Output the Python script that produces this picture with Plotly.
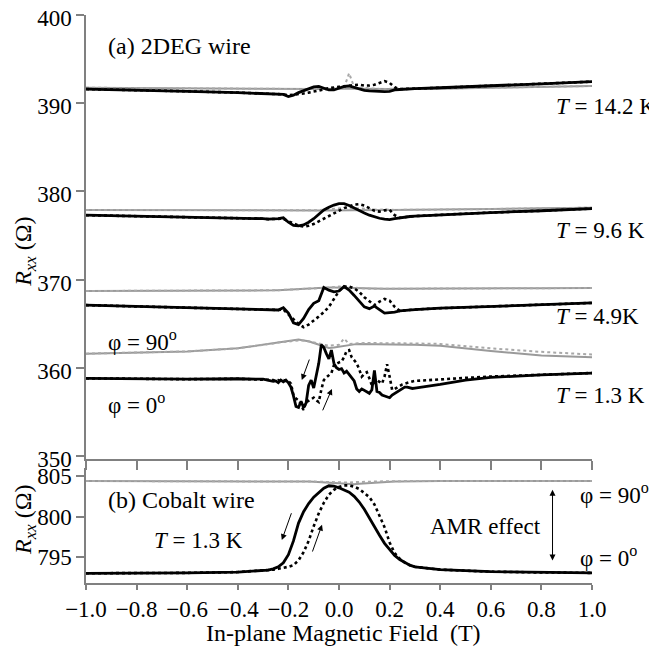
import plotly.graph_objects as go

# ---------------- data ----------------
field = [-1.0, -0.8, -0.6, -0.4, -0.30, -0.28, -0.26, -0.24, -0.22, -0.20, -0.18, -0.16,
         -0.14, -0.12, -0.10, -0.08, -0.06, -0.04, -0.02, 0.00, 0.02, 0.04, 0.06, 0.08,
         0.10, 0.12, 0.14, 0.16, 0.18, 0.20, 0.22, 0.24, 0.26, 0.28, 0.30, 0.4, 0.6, 0.8, 1.0]

# T = 14.2 K
r14_phi0_down = [391.6, 391.5, 391.35, 391.2, 391.1, 391.1, 391.05, 391.1, 391.0, 390.75, 390.9, 391.2,
                 391.4, 391.6, 391.85, 391.9, 391.7, 391.5, 391.5, 391.7, 391.9, 391.95, 391.8, 391.6,
                 391.45, 391.4, 391.35, 391.3, 391.3, 391.35, 391.5, 391.55, 391.6, 391.6, 391.65, 391.75, 391.95, 392.2, 392.45]
r14_phi0_up = [391.6, 391.5, 391.35, 391.2, 391.1, 391.1, 391.05, 391.1, 391.0, 390.9, 390.95, 391.0,
               391.1, 391.2, 391.3, 391.45, 391.55, 391.7, 391.8, 391.85, 391.9, 392.0, 392.05, 392.1,
               392.0, 392.0, 392.1, 392.3, 392.5, 392.3, 391.8, 391.6, 391.6, 391.6, 391.65, 391.75, 391.95, 392.2, 392.45]
r14_phi90_down = [391.75, 391.7, 391.65, 391.6, 391.58, 391.57, 391.57, 391.56, 391.56, 391.55, 391.55, 391.55,
                  391.56, 391.57, 391.58, 391.6, 391.62, 391.64, 391.66, 391.68, 391.7, 391.68, 391.66, 391.64,
                  391.62, 391.6, 391.6, 391.6, 391.6, 391.6, 391.6, 391.6, 391.61, 391.62, 391.63, 391.65, 391.75, 391.85, 391.95]
r14_phi90_up = [391.75, 391.7, 391.65, 391.6, 391.58, 391.57, 391.57, 391.56, 391.56, 391.55, 391.55, 391.56,
                391.57, 391.58, 391.6, 391.62, 391.64, 391.66, 391.68, 391.72, 391.75, 393.4, 391.8, 391.75,
                391.7, 391.65, 391.62, 391.62, 391.62, 391.62, 391.62, 391.62, 391.62, 391.63, 391.64, 391.66, 391.76, 391.86, 391.95]

# T = 9.6 K
r96_phi0_down = [377.3, 377.2, 377.05, 376.95, 376.9, 376.85, 376.85, 376.9, 377.0, 376.5, 376.15, 376.1,
                 376.2, 376.5, 376.9, 377.4, 377.9, 378.2, 378.45, 378.6, 378.6, 378.4, 378.1, 377.8,
                 377.55, 377.3, 377.1, 376.95, 376.85, 376.8, 376.9, 377.0, 377.1, 377.15, 377.2, 377.35, 377.6, 377.8, 378.05]
r96_phi0_up = [377.3, 377.2, 377.05, 376.95, 376.9, 376.85, 376.85, 376.9, 376.9, 376.6, 376.4, 376.1,
               376.0, 376.1, 376.3, 376.6, 376.9, 377.2, 377.5, 377.8, 378.1, 378.3, 378.5, 378.55,
               378.4, 378.1, 377.8, 377.7, 377.85, 377.9, 377.3, 377.0, 377.1, 377.15, 377.2, 377.35, 377.6, 377.8, 378.05]
r96_phi90_down = [377.9, 377.87, 377.84, 377.8, 377.8, 377.8, 377.8, 377.8, 377.8, 377.8, 377.8, 377.8,
                  377.8, 377.81, 377.82, 377.83, 377.84, 377.85, 377.86, 377.87, 377.88, 377.88, 377.88, 377.88,
                  377.88, 377.88, 377.88, 377.88, 377.88, 377.88, 377.89, 377.9, 377.9, 377.9, 377.9, 377.93, 378.0, 378.08, 378.15]
r96_phi90_up = [377.9, 377.87, 377.84, 377.81, 377.8, 377.8, 377.8, 377.8, 377.8, 377.8, 377.8, 377.81,
                377.82, 377.83, 377.85, 377.87, 377.9, 377.95, 378.0, 378.05, 378.1, 378.15, 378.1, 378.05,
                378.0, 377.95, 377.92, 377.9, 377.95, 377.9, 377.9, 377.9, 377.9, 377.9, 377.9, 377.93, 378.0, 378.08, 378.15]

# T = 4.9 K
r49_phi0_down = [367.1, 366.95, 366.85, 366.7, 366.6, 366.6, 366.6, 366.55, 366.8, 366.2, 365.1, 364.9,
                 365.6, 366.6, 367.3, 367.6, 369.1, 368.8, 368.6, 368.7, 369.2, 368.8, 368.2, 367.6,
                 366.9, 366.7, 367.0, 366.6, 366.2, 366.25, 366.3, 366.45, 366.5, 366.55, 366.6, 366.75, 366.95, 367.15, 367.35]
r49_phi0_up = [367.1, 366.95, 366.85, 366.7, 366.6, 366.6, 366.6, 366.55, 366.6, 366.0, 365.5, 365.0,
               364.6, 364.9, 365.3, 365.8, 366.3, 366.9, 367.8, 368.7, 369.2, 369.2, 369.0, 368.6,
               368.0, 367.5, 367.1, 367.5, 367.8, 367.6, 366.9, 366.45, 366.5, 366.55, 366.6, 366.75, 366.95, 367.15, 367.35]
r49_phi90_down = [368.7, 368.7, 368.7, 368.72, 368.75, 368.76, 368.78, 368.8, 368.82, 368.85, 368.88, 368.92,
                  368.95, 368.98, 369.0, 369.05, 369.1, 369.1, 369.1, 369.08, 369.05, 369.02, 369.0, 368.98,
                  368.96, 368.95, 368.95, 368.95, 368.95, 368.95, 368.95, 368.95, 368.95, 368.95, 368.95, 368.95, 368.98, 369.02, 369.05]
r49_phi90_up = [368.7, 368.7, 368.7, 368.72, 368.75, 368.76, 368.78, 368.8, 368.82, 368.84, 368.86, 368.9,
                368.93, 368.96, 368.98, 369.02, 369.05, 369.1, 369.15, 369.2, 369.15, 369.1, 369.05, 369.0,
                368.98, 368.96, 368.95, 368.95, 368.95, 368.95, 368.95, 368.95, 368.95, 368.95, 368.95, 368.95, 368.98, 369.02, 369.05]

# T = 1.3 K, phi = 90 deg
r13_phi90_down = [361.6, 361.7, 361.85, 362.2, 362.6, 362.7, 362.8, 362.9, 362.95, 363.0, 363.1, 363.2,
                  363.1, 363.0, 362.8, 362.6, 362.45, 362.25, 362.3, 362.4, 362.5, 362.6, 362.65, 362.7,
                  362.7, 362.7, 362.7, 362.7, 362.7, 362.7, 362.68, 362.66, 362.64, 362.62, 362.6, 362.5, 361.9, 361.4, 361.2]
r13_phi90_up = [361.6, 361.7, 361.85, 362.2, 362.55, 362.65, 362.75, 362.85, 362.92, 362.98, 363.05, 363.1,
                363.1, 363.0, 362.9, 362.75, 362.6, 362.5, 362.55, 362.6, 363.3, 362.7, 362.75, 362.8,
                362.8, 362.8, 362.8, 362.8, 362.8, 362.8, 362.8, 362.8, 362.78, 362.76, 362.75, 362.7, 362.2, 361.8, 361.5]

# T = 1.3 K, phi = 0 deg (finer field steps)
field_fine = [-1.0, -0.8, -0.6, -0.4, -0.30, -0.26, -0.25, -0.24, -0.23, -0.22, -0.21, -0.20, -0.19,
              -0.18, -0.17, -0.16, -0.15, -0.14, -0.13, -0.12, -0.11, -0.10, -0.09, -0.08, -0.07,
              -0.06, -0.05, -0.04, -0.03, -0.02, -0.01, 0.00, 0.01, 0.02, 0.03, 0.04, 0.05, 0.06,
              0.07, 0.08, 0.09, 0.10, 0.11, 0.12, 0.13, 0.14, 0.15, 0.16, 0.17, 0.18, 0.19, 0.20,
              0.21, 0.22, 0.23, 0.24, 0.25, 0.26, 0.27, 0.28, 0.29, 0.30, 0.4, 0.5, 0.6, 0.8, 1.0]
r13_phi0_down = [358.8, 358.75, 358.7, 358.75, 358.7, 358.45, 358.5, 358.3, 358.6, 358.4, 358.6, 358.3, 357.8,
                 356.8, 355.6, 355.5, 356.2, 355.5, 356.0, 358.0, 358.6, 357.7, 359.0, 360.5, 362.6,
                 362.3, 361.6, 361.0, 362.0, 360.5, 360.0, 359.8, 359.9, 359.4, 359.6, 359.2, 358.8, 358.5,
                 357.6, 357.3, 357.6, 357.4, 357.2, 357.1, 357.5, 359.7, 357.3, 357.2, 356.9, 356.8, 356.7, 356.6,
                 356.9, 357.1, 357.3, 357.4, 357.6, 357.8, 357.8, 357.7, 357.65, 357.7, 358.1, 358.6, 358.9, 359.2, 359.4]
r13_phi0_up = [358.8, 358.75, 358.7, 358.75, 358.7, 358.6, 358.5, 358.6, 358.5, 358.6, 358.5, 358.5, 358.2,
               356.9, 356.5, 356.3, 355.8, 355.2, 356.1, 356.3, 356.5, 356.6, 356.3, 356.1, 357.5,
               358.6, 358.9, 359.2, 359.4, 360.3, 360.5, 360.6, 360.7, 361.2, 361.9, 362.0, 361.2, 360.8,
               360.5, 359.8, 359.0, 359.3, 359.5, 358.8, 358.0, 358.3, 358.6, 358.4, 358.2, 359.0, 360.4, 359.0,
               357.5, 357.6, 357.8, 357.9, 358.1, 358.2, 358.3, 358.4, 358.45, 358.5, 358.7, 358.85, 359.0, 359.2, 359.4]

# Cobalt wire, T = 1.3 K
co_phi0_down = [793.0, 793.0, 793.05, 793.15, 793.3, 793.4, 793.55, 793.8, 794.3, 795.3, 797.0, 799.2,
                800.6, 801.6, 802.4, 803.0, 803.5, 803.8, 803.75, 803.55, 803.3, 803.0, 802.5, 801.8,
                800.9, 799.8, 798.7, 797.7, 796.7, 795.9, 795.2, 794.7, 794.3, 794.0, 793.8, 793.45, 793.2, 793.1, 793.05]
co_phi0_up = [793.0, 793.0, 793.05, 793.15, 793.3, 793.35, 793.45, 793.55, 793.65, 793.8, 794.0, 794.6,
              795.6, 797.0, 798.8, 800.4, 801.7, 802.7, 803.3, 803.65, 803.85, 803.85, 803.7, 803.4,
              802.9, 802.4, 801.5, 800.2, 798.7, 796.8, 795.5, 794.8, 794.3, 794.0, 793.8, 793.45, 793.2, 793.1, 793.05]
co_phi90_down = [804.4, 804.4, 804.4, 804.4, 804.4, 804.4, 804.4, 804.4, 804.4, 804.4, 804.38, 804.36,
                 804.34, 804.32, 804.3, 804.28, 804.25, 804.2, 804.15, 804.1, 804.05, 804.0, 804.0, 804.05,
                 804.1, 804.15, 804.2, 804.25, 804.28, 804.3, 804.32, 804.34, 804.35, 804.36, 804.37, 804.39, 804.4, 804.4, 804.4]
co_phi90_up = [804.4, 804.4, 804.4, 804.4, 804.4, 804.4, 804.4, 804.4, 804.4, 804.4, 804.4, 804.38,
               804.36, 804.34, 804.32, 804.3, 804.28, 804.25, 804.22, 804.2, 804.15, 804.2, 804.25, 804.28,
               804.3, 804.32, 804.34, 804.35, 804.36, 804.37, 804.38, 804.38, 804.39, 804.39, 804.4, 804.4, 804.4, 804.4, 804.4]

x_ticks = [-1.0, -0.8, -0.6, -0.4, -0.2, 0.0, 0.2, 0.4, 0.6, 0.8, 1.0]
x_ticktext = ["\u22121.0", "\u22120.8", "\u22120.6", "\u22120.4", "\u22120.2", "0.0", "0.2", "0.4", "0.6", "0.8", "1.0"]
y_top_ticks = [350, 360, 370, 380, 390, 400]
y_bot_ticks = [795, 800, 805]

# ---------------- styles ----------------
FONT = "Liberation Serif, Times New Roman, serif"
BLACK = "#000000"
GRAY = "#9a9a9a"
GRAY_D = "#a8a8a8"
AXIS = "#808080"

fig = go.Figure()

def add(x, y, axis, kind):
    if kind == "bs":
        line = dict(color=BLACK, width=2.8)
    elif kind == "bd":
        line = dict(color=BLACK, width=2.6, dash="dot")
    elif kind == "gs":
        line = dict(color=GRAY, width=2)
    else:
        line = dict(color=GRAY_D, width=2, dash="dot")
    xa, ya = ("x", "y") if axis == 1 else ("x2", "y2")
    fig.add_trace(go.Scatter(x=x, y=y, mode="lines", line=line, xaxis=xa, yaxis=ya,
                             showlegend=False, hoverinfo="skip"))

# gray (phi = 90) first so black draws on top
for yv in [r14_phi90_down, r96_phi90_down, r49_phi90_down, r13_phi90_down]:
    add(field, yv, 1, "gs")
for yv in [r14_phi90_up, r96_phi90_up, r49_phi90_up, r13_phi90_up]:
    add(field, yv, 1, "gd")
for yv in [r14_phi0_up, r96_phi0_up, r49_phi0_up]:
    add(field, yv, 1, "bd")
add(field_fine, r13_phi0_up, 1, "bd")
for yv in [r14_phi0_down, r96_phi0_down, r49_phi0_down]:
    add(field, yv, 1, "bs")
add(field_fine, r13_phi0_down, 1, "bs")

add(field, co_phi90_down, 2, "gs")
add(field, co_phi90_up, 2, "gd")
add(field, co_phi0_up, 2, "bd")
add(field, co_phi0_down, 2, "bs")

tickfont = dict(family=FONT, size=23, color="black")
axis_common = dict(showgrid=False, zeroline=False, showline=True, linecolor=AXIS, linewidth=1.5,
                   ticks="outside", tickcolor=AXIS, tickwidth=1.5, tickfont=tickfont,
                   automargin=False, ticklabeloverflow="allow")

# page body has an 8 px margin: the figure is sized / offset to compensate
fig.update_layout(
    template="none",
    width=649, height=640,
    margin=dict(l=78, r=65, t=7, b=65, pad=0),
    paper_bgcolor="white", plot_bgcolor="white",
    font=dict(family=FONT, size=23, color="black"),
    xaxis=dict(domain=[0, 1], anchor="y", range=[-1.0, 1.0], tickvals=x_ticks,
               showticklabels=False, ticklen=9, **axis_common),
    yaxis=dict(domain=[0.2183, 1.0], anchor="x", range=[349.65, 400], tickvals=y_top_ticks,
               ticklen=8, ticklabelshift=3, **axis_common),
    xaxis2=dict(domain=[0, 1], anchor="y2", range=[-1.0, 1.0], matches="x", tickvals=x_ticks,
                ticktext=x_ticktext, ticklen=5, **axis_common),
    yaxis2=dict(domain=[0.0, 0.2025], anchor="x2", range=[791.8, 806.0], tickvals=y_bot_ticks,
                ticklen=8, **axis_common),
)

def txt(x, y, s, xref="x", yref="y", xanchor="left", size=23, angle=0):
    fig.add_annotation(x=x, y=y, xref=xref, yref=yref, text=s, showarrow=False,
                       xanchor=xanchor, yanchor="middle", textangle=angle,
                       font=dict(family=FONT, size=size, color="black"))

# panel (a) labels
txt(-0.919, 396.5, "(a) 2DEG wire", size=24)
txt(0.848, 389.6, "<i>T</i> = 14.2 K")
txt(0.848, 375.6, "<i>T</i> = 9.6 K")
txt(0.848, 365.8, "<i>T</i> = 4.9K")
txt(0.848, 356.9, "<i>T</i> = 1.3 K")
txt(-0.919, 363.1, "\u03c6 = 90<sup>o</sup>")
txt(-0.919, 355.9, "\u03c6 = 0<sup>o</sup>")

# panel (b) labels
txt(-0.919, 802.0, "(b) Cobalt wire", xref="x2", yref="y2", size=24)
txt(-0.741, 797.1, "<i>T</i> = 1.3 K", xref="x2", yref="y2")
txt(0.578, 798.8, "AMR effect", xref="x2", yref="y2", xanchor="center")
txt(0.943, 802.8, "\u03c6 = 90<sup>o</sup>", xref="x2", yref="y2")
txt(0.943, 795.1, "\u03c6 = 0<sup>o</sup>", xref="x2", yref="y2")

# axis titles
txt(-0.1206, 0.583, "<i>R</i><sub><i>xx</i></sub> (\u03a9)", xref="paper", yref="paper",
    xanchor="center", angle=-90, size=24)
txt(-0.1206, 0.111, "<i>R</i><sub><i>xx</i></sub> (\u03a9)", xref="paper", yref="paper",
    xanchor="center", angle=-90, size=24)
txt(0.508, -0.088, "In-plane Magnetic Field  (T)", xref="paper", yref="paper",
    xanchor="center", size=24)

def arrow(x0, y0, x1, y1, xref, yref, both=False):
    fig.add_annotation(x=x1, y=y1, ax=x0, ay=y0, xref=xref, yref=yref, axref=xref, ayref=yref,
                       text="", showarrow=True, arrowhead=2, arrowsize=1.2, arrowwidth=1,
                       arrowcolor="black", arrowside="end+start" if both else "end",
                       startarrowhead=2, startarrowsize=1.2)

arrow(-0.115, 361.1, -0.147, 358.6, "x", "y")
arrow(-0.067, 355.0, -0.028, 357.6, "x", "y")
arrow(-0.186, 800.6, -0.226, 797.1, "x2", "y2")
arrow(-0.107, 795.5, -0.067, 799.0, "x2", "y2")
arrow(0.844, 794.4, 0.844, 803.3, "x2", "y2", both=True)

fig.write_html("out.html")
